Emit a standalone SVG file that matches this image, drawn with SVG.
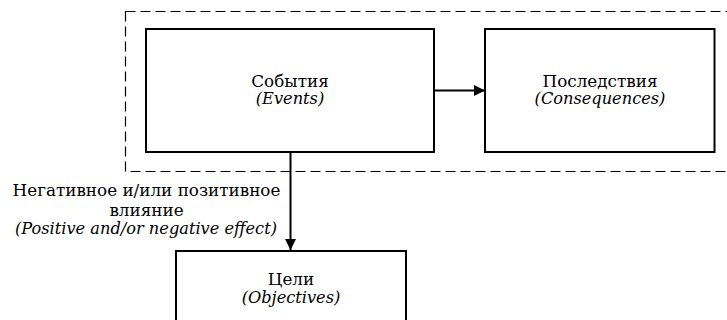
<svg xmlns="http://www.w3.org/2000/svg" width="727" height="320" viewBox="0 0 727 320">
  <defs>
    <marker id="arrow" viewBox="0 0 10 10" refX="10" refY="5" markerWidth="17" markerHeight="11" markerUnits="userSpaceOnUse" orient="auto">
      <path d="M0,0 L10,5 L0,10 Z" fill="#000"/>
    </marker>
  </defs>
  <style>
    .box { fill: #fff; stroke: #000; stroke-width: 2; }
    .frame { fill: none; stroke: #000; stroke-width: 1.2; stroke-dasharray: 10 5; }
    .link { fill: none; stroke: #000; stroke-width: 2; }
    text { font-family: "DejaVu Serif", serif; font-size: 16.8px; fill: #000; text-anchor: middle; }
    .en { font-style: italic; font-size: 16.2px; }
  </style>
  <rect width="727" height="320" fill="#fff"/>

  <!-- dashed grouping frame around events and consequences -->
  <rect class="frame" x="125.5" y="11.5" width="610" height="160"/>

  <g id="connectors">
    <line class="link" x1="434" y1="90.5" x2="485" y2="90.5" marker-end="url(#arrow)"/>
    <line class="link" x1="290.5" y1="152" x2="290.5" y2="250" marker-end="url(#arrow)"/>
    <text x="146.5" y="196">Негативное и/или позитивное</text>
    <text x="146.5" y="215.5">влияние</text>
    <text class="en" x="146" y="234">(Positive and/or negative effect)</text>
  </g>

  <g id="events">
    <rect class="box" x="146" y="29" width="288" height="123"/>
    <text x="290" y="86.5">События</text>
    <text class="en" x="290" y="104">(Events)</text>
  </g>

  <g id="consequences">
    <rect class="box" x="485" y="29" width="229.5" height="123"/>
    <text x="600" y="86.5">Последствия</text>
    <text class="en" x="600" y="104">(Consequences)</text>
  </g>

  <g id="objectives">
    <rect class="box" x="176" y="251" width="230" height="80"/>
    <text x="291" y="285">Цели</text>
    <text class="en" x="291" y="303">(Objectives)</text>
  </g>
</svg>
